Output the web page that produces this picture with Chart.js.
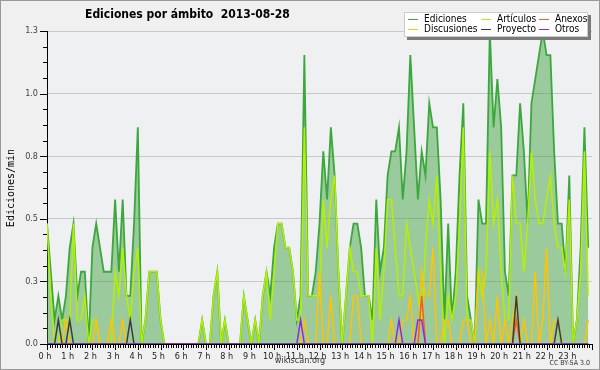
<!DOCTYPE html>
<html>
<head>
<meta charset="utf-8">
<script src="https://cdn.jsdelivr.net/npm/chart.js@4.4.1/dist/chart.umd.min.js"></script>
<style>
  html, body { margin: 0; padding: 0; background: #f0f0f0; }
  #wrap { width: 600px; height: 370px; }
</style>
</head>
<body>
<div id="wrap"><canvas id="chart" width="600" height="370"></canvas></div>
<script>
// --- data: edits per minute, 10 minute bins, 2013-08-28 ---
const hourLabels = ['0 h', '1 h', '2 h', '3 h', '4 h', '5 h', '6 h', '7 h', '8 h', '9 h', '10 h', '11 h',
    '12 h', '13 h', '14 h', '15 h', '16 h', '17 h', '18 h', '19 h', '20 h', '21 h', '22 h', '23 h'];
const yTickLabels = ['0.0', '0.3', '0.5', '0.8', '1.0', '1.3'];
const yMax = 1.3;

const ediciones = [
    0.5, 0.3, 0.1, 0.2, 0.1, 0.2, 0.4, 0.5, 0.2, 0.3, 0.3, 0,
    0.4, 0.5, 0.4, 0.3, 0.3, 0.3, 0.6, 0.3, 0.6, 0.2, 0.2, 0.5,
    0.9, 0, 0.1, 0.3, 0.3, 0.3, 0.1, 0, 0, 0, 0, 0,
    0, 0, 0, 0, 0, 0.1, 0, 0, 0.2, 0.3, 0, 0.1,
    0, 0, 0, 0, 0.2, 0.1, 0, 0.1, 0, 0.2, 0.3, 0.2,
    0.4, 0.5, 0.5, 0.4, 0.4, 0.3, 0.1, 0.2, 1.2, 0.2, 0.2, 0.3,
    0.5, 0.8, 0.6, 0.9, 0.7, 0.3, 0, 0.2, 0.4, 0.5, 0.5, 0.4,
    0.2, 0.2, 0.1, 0.6, 0.3, 0.4, 0.7, 0.8, 0.8, 0.9, 0.6, 0.8,
    1.2, 0.9, 0.6, 0.8, 0.7, 1.0, 0.9, 0.9, 0.6, 0.1, 0.5, 0.1,
    0.3, 0.7, 1.0, 0.2, 0.1, 0, 0.6, 0.5, 0.5, 1.3, 0.9, 1.1,
    0.9, 0.3, 0.2, 0.7, 0.7, 1.0, 0.8, 0.5, 1.0, 1.1, 1.2, 1.3,
    1.2, 1.2, 0.8, 0.5, 0.5, 0.3, 0.7, 0, 0.1, 0.4, 0.9, 0.4
];
const articulos = [
    0.5, 0.2, 0, 0, 0.1, 0.1, 0.1, 0.5, 0.1, 0.1, 0.2, 0,
    0.1, 0.1, 0, 0, 0, 0, 0.3, 0.2, 0.4, 0.2, 0.1, 0.3,
    0.4, 0, 0.1, 0.3, 0.3, 0.3, 0.1, 0, 0, 0, 0, 0,
    0, 0, 0, 0, 0, 0.1, 0, 0, 0.2, 0.3, 0, 0.1,
    0, 0, 0, 0, 0.2, 0.1, 0, 0.1, 0, 0.2, 0.3, 0.1,
    0.3, 0.5, 0.5, 0.4, 0.4, 0.3, 0.1, 0.1, 0.9, 0.2, 0.2, 0.2,
    0.2, 0.6, 0.4, 0.6, 0.7, 0.3, 0, 0.2, 0.4, 0.3, 0.3, 0.2,
    0.2, 0.2, 0, 0.4, 0.1, 0.3, 0.6, 0.6, 0.4, 0.2, 0.2, 0.5,
    0.4, 0.3, 0.2, 0.1, 0.4, 0.6, 0.5, 0.7, 0.3, 0, 0.2, 0.1,
    0.2, 0.5, 0.9, 0.1, 0.1, 0, 0.3, 0.2, 0.3, 0.8, 0.5, 0.6,
    0.3, 0.1, 0.1, 0.7, 0.5, 0.5, 0.3, 0.5, 0.8, 0.6, 0.5, 0.5,
    0.6, 0.7, 0.5, 0.4, 0.4, 0.3, 0.6, 0, 0.1, 0.3, 0.8, 0.2
];
const discusiones = [
    0, 0, 0, 0, 0, 0.1, 0, 0, 0, 0, 0, 0,
    0, 0.1, 0, 0, 0, 0.1, 0, 0, 0.1, 0, 0, 0,
    0, 0, 0, 0, 0, 0, 0, 0, 0, 0, 0, 0,
    0, 0, 0, 0, 0, 0, 0, 0, 0, 0, 0, 0,
    0, 0, 0, 0, 0, 0, 0, 0, 0, 0, 0, 0,
    0, 0, 0, 0, 0, 0, 0, 0, 0.1, 0, 0, 0,
    0.3, 0, 0, 0.2, 0, 0, 0, 0, 0, 0.2, 0.2, 0,
    0, 0, 0, 0, 0, 0, 0, 0.1, 0, 0, 0.1, 0.1,
    0.2, 0, 0, 0.3, 0.2, 0.2, 0.4, 0, 0, 0.1, 0.1, 0,
    0, 0, 0.1, 0.1, 0, 0, 0.3, 0.3, 0, 0.1, 0, 0.2,
    0, 0.1, 0, 0.1, 0.2, 0, 0.1, 0, 0, 0.3, 0, 0.1,
    0.4, 0, 0.1, 0.1, 0, 0, 0, 0, 0, 0, 0, 0.1
];
const anexos = [
    0, 0, 0, 0, 0, 0, 0, 0, 0, 0, 0, 0,
    0, 0, 0, 0, 0, 0, 0, 0, 0, 0, 0, 0,
    0, 0, 0, 0, 0, 0, 0, 0, 0, 0, 0, 0,
    0, 0, 0, 0, 0, 0, 0, 0, 0, 0, 0, 0,
    0, 0, 0, 0, 0, 0, 0, 0, 0, 0, 0, 0,
    0, 0, 0, 0, 0, 0, 0, 0, 0, 0, 0, 0,
    0, 0, 0, 0, 0, 0, 0, 0, 0, 0, 0, 0,
    0, 0, 0, 0, 0, 0, 0, 0, 0, 0, 0, 0,
    0, 0, 0, 0.2, 0, 0, 0, 0, 0, 0, 0, 0,
    0, 0, 0, 0, 0, 0, 0, 0, 0, 0, 0, 0,
    0, 0, 0, 0, 0.1, 0, 0, 0, 0, 0, 0, 0,
    0, 0, 0, 0, 0, 0, 0, 0, 0, 0, 0, 0
];
const proyecto = [
    0, 0, 0, 0.1, 0, 0, 0.1, 0, 0, 0, 0, 0,
    0, 0, 0, 0, 0, 0, 0, 0, 0, 0, 0.1, 0,
    0, 0, 0, 0, 0, 0, 0, 0, 0, 0, 0, 0,
    0, 0, 0, 0, 0, 0, 0, 0, 0, 0, 0, 0,
    0, 0, 0, 0, 0, 0, 0, 0, 0, 0, 0, 0,
    0, 0, 0, 0, 0, 0, 0, 0, 0, 0, 0, 0,
    0, 0, 0, 0, 0, 0, 0, 0, 0, 0, 0, 0,
    0, 0, 0, 0, 0, 0, 0, 0, 0, 0, 0, 0,
    0, 0, 0, 0, 0, 0, 0, 0, 0, 0, 0, 0,
    0, 0, 0, 0, 0, 0, 0, 0, 0, 0, 0, 0,
    0, 0, 0, 0, 0.2, 0, 0, 0, 0, 0, 0, 0,
    0, 0, 0, 0.1, 0, 0, 0, 0, 0, 0, 0, 0
];
const otros = [
    0, 0, 0, 0, 0, 0, 0, 0, 0, 0, 0, 0,
    0, 0, 0, 0, 0, 0, 0, 0, 0, 0, 0, 0,
    0, 0, 0, 0, 0, 0, 0, 0, 0, 0, 0, 0,
    0, 0, 0, 0, 0, 0, 0, 0, 0, 0, 0, 0,
    0, 0, 0, 0, 0, 0, 0, 0, 0, 0, 0, 0,
    0, 0, 0, 0, 0, 0, 0, 0.1, 0, 0, 0, 0,
    0, 0, 0, 0, 0, 0, 0, 0, 0, 0, 0, 0,
    0, 0, 0, 0, 0, 0, 0, 0, 0, 0.1, 0, 0,
    0, 0, 0.1, 0.1, 0, 0, 0, 0, 0, 0, 0, 0,
    0, 0, 0, 0, 0, 0, 0, 0, 0, 0, 0, 0,
    0, 0, 0, 0, 0, 0, 0, 0, 0, 0, 0, 0,
    0, 0, 0, 0, 0, 0, 0, 0, 0, 0, 0, 0
];

const BINS_PER_HOUR = 6;
const X_TICKS_PER_HOUR = 9;
const FONT = '"DejaVu Sans Condensed", "DejaVu Sans", sans-serif';

// values -> points, x in hours
function toPoints(arr) {
    return arr.map((v, i) => ({ x: i / BINS_PER_HOUR, y: v }));
}

function lineSet(label, values, color, order, extra) {
    return Object.assign({
        label: label,
        data: toPoints(values),
        borderColor: color,
        backgroundColor: color,
        borderWidth: 1.5,
        pointRadius: 0,
        tension: 0,
        fill: false,
        order: order
    }, extra || {});
}

// legend layout: 3 columns x 2 rows, like the picture
const legendOrder = ['Ediciones', 'Artículos', 'Anexos', 'Discusiones', 'Proyecto', 'Otros'];

const decorPlugin = {
    id: 'decor',
    beforeDraw(chart) {
        const { ctx, chartArea: a } = chart;
        ctx.save();
        ctx.fillStyle = '#f0f0f0';
        ctx.fillRect(0, 0, chart.width, chart.height);
        ctx.fillStyle = '#eef0f2';
        ctx.fillRect(a.left, a.top, a.right - a.left, a.bottom - a.top);
        ctx.restore();
    },
    afterDraw(chart) {
        const { ctx, chartArea: a, scales: { x, y } } = chart;
        ctx.save();

        // tick marks on both axes
        ctx.strokeStyle = '#000';
        ctx.lineWidth = 1;
        ctx.beginPath();
        y.ticks.forEach((t, i) => {
            const py = Math.round(y.getPixelForValue(t.value)) + 0.5;
            const len = i % 4 === 0 ? 7 : 4;
            ctx.moveTo(a.left - len, py);
            ctx.lineTo(a.left, py);
        });
        x.ticks.forEach((t, i) => {
            const px = Math.round(x.getPixelForValue(t.value)) + 0.5;
            const len = i % X_TICKS_PER_HOUR === 0 ? 6 : 4;
            ctx.moveTo(px, a.bottom);
            ctx.lineTo(px, a.bottom + len);
        });
        ctx.stroke();

        // title
        ctx.fillStyle = '#000';
        ctx.font = 'bold 12px ' + FONT;
        ctx.textBaseline = 'alphabetic';
        ctx.textAlign = 'left';
        ctx.fillText('Ediciones por ámbito  2013-08-28', 85, 18);

        // y axis title
        ctx.save();
        ctx.translate(11, 188);
        ctx.rotate(-Math.PI / 2);
        ctx.font = '10px "DejaVu Sans Mono", monospace';
        ctx.textAlign = 'center';
        ctx.textBaseline = 'middle';
        ctx.fillText('Ediciones/min', 0, 0);
        ctx.restore();

        // footer
        ctx.fillStyle = '#333';
        ctx.font = '9px ' + FONT;
        ctx.textAlign = 'center';
        ctx.fillText('wikiscan.org', 300, 363);
        ctx.font = '7px ' + FONT;
        ctx.textAlign = 'right';
        ctx.fillText('CC BY-SA 3.0', 590, 365);

        // legend box with shadow
        const bx = 404, by = 12, bw = 184, bh = 25;
        ctx.fillStyle = '#7a7a7a';
        ctx.fillRect(bx + 3, by + 3, bw, bh);
        ctx.fillStyle = '#fff';
        ctx.fillRect(bx, by, bw, bh);
        ctx.strokeStyle = '#ccc';
        ctx.strokeRect(bx + 0.5, by + 0.5, bw - 1, bh - 1);

        const cols = [408, 481, 539];
        const rows = [19, 29];
        ctx.font = '10px ' + FONT;
        ctx.textAlign = 'left';
        ctx.textBaseline = 'middle';
        legendOrder.forEach((name, k) => {
            const ds = chart.data.datasets.find(d => d.label === name);
            const cx = cols[k % 3], cy = rows[Math.floor(k / 3)];
            ctx.strokeStyle = ds.borderColor;
            ctx.lineWidth = 1;
            ctx.beginPath();
            ctx.moveTo(cx, cy + 0.5);
            ctx.lineTo(cx + 10, cy + 0.5);
            ctx.stroke();
            ctx.fillStyle = '#000';
            ctx.fillText(name, cx + 16, cy);
        });

        // outer frame
        ctx.strokeStyle = '#999';
        ctx.lineWidth = 1;
        ctx.strokeRect(0.5, 0.5, chart.width - 1, chart.height - 1);
        ctx.restore();
    }
};

const datasets = [
    lineSet('Ediciones', ediciones, '#3aa83a', 6, { fill: 'origin', backgroundColor: 'rgba(40,150,40,0.42)', borderWidth: 1.8 }),
    lineSet('Artículos', articulos, '#b4f000', 5),
    lineSet('Discusiones', discusiones, '#ffc400', 4),
    lineSet('Anexos', anexos, '#ff5a1e', 3),
    lineSet('Proyecto', proyecto, '#3c3c3c', 2),
    lineSet('Otros', otros, '#8a2be2', 1)
];

new Chart(document.getElementById('chart').getContext('2d'), {
    type: 'line',
    data: { datasets: datasets },
    options: {
        responsive: false,
        animation: false,
        events: [],
        layout: { padding: { top: 31, right: 8, left: 0, bottom: 0 } },
        plugins: { legend: { display: false }, title: { display: false }, tooltip: { enabled: false } },
        scales: {
            x: {
                type: 'linear',
                min: 0,
                max: 24,
                afterBuildTicks: scale => {
                    const ticks = [];
                    for (let k = 0; k <= 24 * X_TICKS_PER_HOUR; k++) ticks.push({ value: k / X_TICKS_PER_HOUR });
                    scale.ticks = ticks;
                },
                afterFit: scale => { scale.height = 26; },
                grid: { display: false, drawTicks: false },
                border: { display: true, color: '#000', width: 1 },
                ticks: {
                    autoSkip: false,
                    maxRotation: 0,
                    padding: 7,
                    labelOffset: -2,
                    color: '#222',
                    font: { family: FONT, size: 9 },
                    callback: (value, index) => {
                        if (index % X_TICKS_PER_HOUR !== 0) return '';
                        return hourLabels[index / X_TICKS_PER_HOUR] || '';
                    }
                }
            },
            y: {
                min: 0,
                max: yMax,
                afterBuildTicks: scale => {
                    const ticks = [];
                    for (let k = 0; k <= 20; k++) ticks.push({ value: yMax * k / 20 });
                    scale.ticks = ticks;
                },
                afterFit: scale => { scale.width = 47; },
                grid: {
                    drawTicks: false,
                    color: c => (c.index % 4 === 0 && c.index > 0) ? '#c8c8c8' : 'rgba(0,0,0,0)'
                },
                border: { display: true, color: '#000', width: 1 },
                ticks: {
                    autoSkip: false,
                    padding: 9,
                    color: '#444',
                    font: { family: FONT, size: 9 },
                    callback: (value, index) => index % 4 === 0 ? yTickLabels[index / 4] : ''
                }
            }
        }
    },
    plugins: [decorPlugin]
});
</script>
</body>
</html>
